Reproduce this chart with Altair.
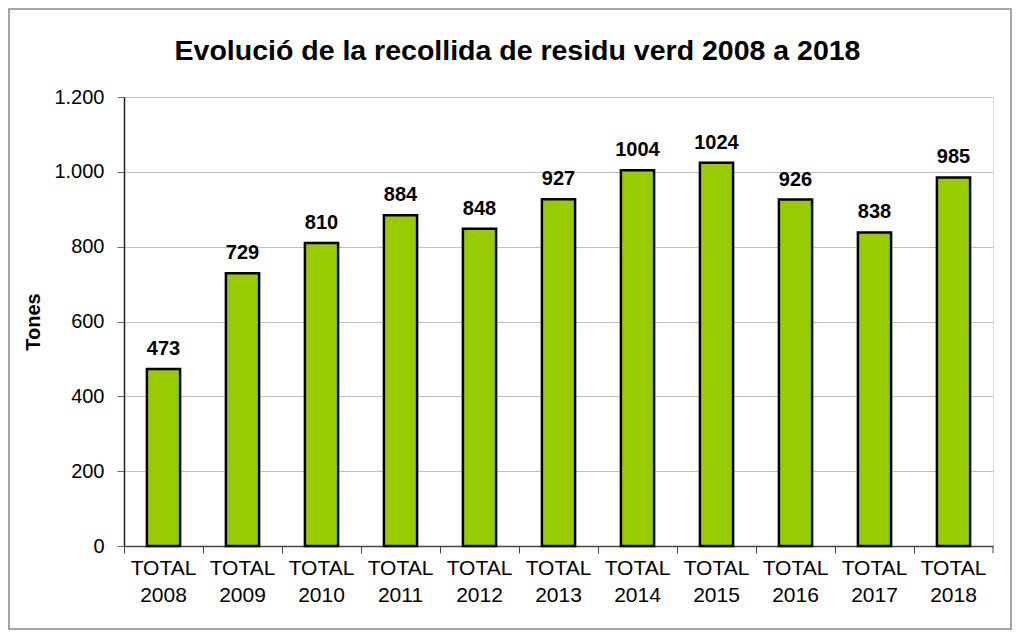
import altair as alt
import pandas as pd

categories = ["TOTAL 2008", "TOTAL 2009", "TOTAL 2010", "TOTAL 2011", "TOTAL 2012",
              "TOTAL 2013", "TOTAL 2014", "TOTAL 2015", "TOTAL 2016", "TOTAL 2017", "TOTAL 2018"]
values = [473, 729, 810, 884, 848, 927, 1004, 1024, 926, 838, 985]
title_text = ["Evolució de la recollida de residu verd 2008 a 2018"]

df = pd.DataFrame({"cat": categories, "val": values})

W, H = 869, 449
PL, PT, PR, PB = 116, 89, 19, 84

xscale = alt.Scale(domain=categories, paddingInner=0, paddingOuter=0)
yscale = alt.Scale(domain=[0, 1200], nice=False)

base = alt.Chart(df)

bars = base.mark_bar(color="#99CC00", stroke="black", strokeWidth=2.5,
                     width=alt.RelativeBandSize(0.42)).encode(
    x=alt.X("cat:N", scale=xscale, sort=categories, title=None,
            axis=alt.Axis(labelAngle=0, bandPosition=0, labelExpr="split(datum.label, ' ')",
                          labelFont="Liberation Sans", labelFontSize=21, labelColor="black",
                          labelPadding=4, labelLineHeight=27, tickSize=7, tickColor="#444",
                          domainColor="#444", domainWidth=1.5, grid=False,
                          labelBaseline="top")),
    y=alt.Y("val:Q", scale=yscale, title="Tones",
            axis=alt.Axis(values=[0, 200, 400, 600, 800, 1000, 1200],
                          labelExpr="replace(format(datum.value, ','), ',', '.')",
                          labelFont="Liberation Sans", labelFontSize=20, labelColor="black",
                          labelPadding=13, tickSize=7, tickColor="#666", domainColor="#222",
                          domainWidth=1.5, gridColor="#C0C0C0", gridWidth=1,
                          titleFont="Liberation Sans", titleFontSize=20, titleFontWeight="bold",
                          titleColor="black", titlePadding=10)),
)

labels = base.mark_text(font="Liberation Sans", fontSize=20, fontWeight="bold",
                        color="black", dy=-14, baseline="alphabetic").encode(
    x=alt.X("cat:N", scale=xscale, sort=categories),
    y=alt.Y("val:Q", scale=yscale),
    text="val:Q",
)

endtick = alt.Chart(pd.DataFrame({"v": [0]})).mark_rule(color="#444", strokeWidth=1).encode(
    x=alt.value(W), y=alt.value(H), y2=alt.value(H + 7))

title = alt.Chart(pd.DataFrame({"t": title_text})).mark_text(
    font="Liberation Sans", fontSize=28.5, fontWeight="bold", color="black",
    baseline="alphabetic", align="center", clip=False).encode(
    x=alt.value(W / 2 - 41), y=alt.value(60 - 97), text="t:N")

frame = alt.Chart(pd.DataFrame({"v": [0]})).mark_rect(
    fill=None, stroke="#888", strokeWidth=1.5, clip=False).encode(
    x=alt.value(-PL + 1), y=alt.value(-PT + 1),
    x2=alt.value(W + PR - 1), y2=alt.value(H + PB - 1))

chart = alt.layer(bars, labels, endtick, title, frame).properties(
    width=W, height=H,
    autosize=alt.AutoSizeParams(type="none"),
    padding={"left": PL, "top": PT, "right": PR, "bottom": PB},
).configure_view(fill="#FFFFCC", stroke="#999", strokeWidth=1.5).configure(background="white")

chart.save("out.html", embed_options={"renderer": "svg", "actions": False})
